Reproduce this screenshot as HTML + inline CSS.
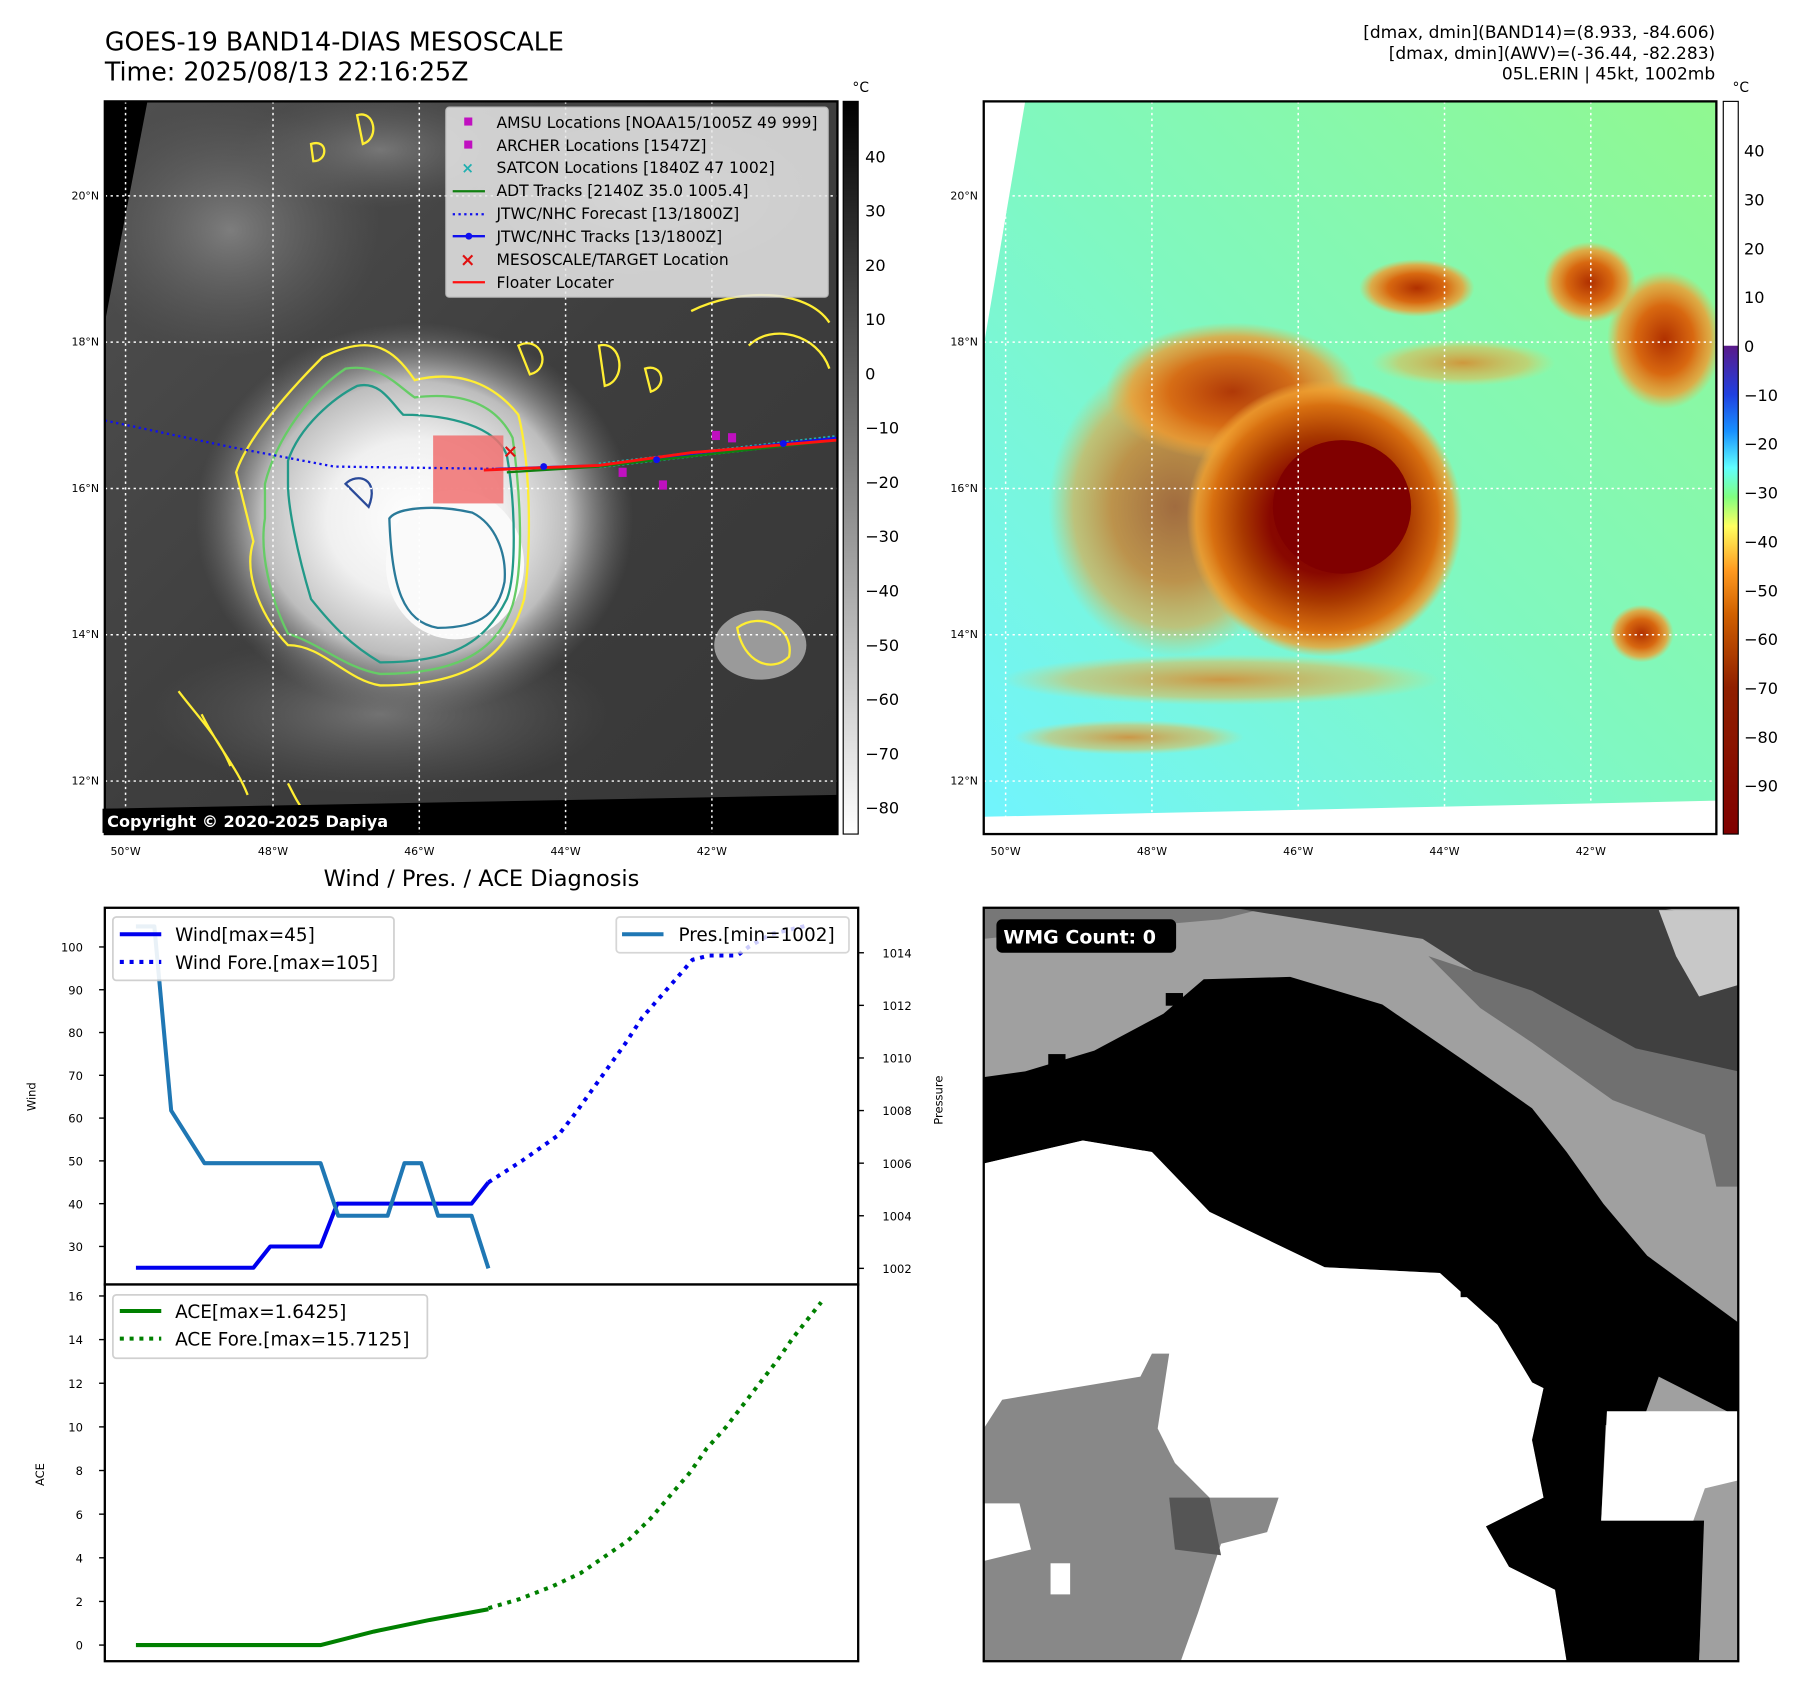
<!DOCTYPE html>
<html><head><meta charset="utf-8"><style>
html,body{margin:0;padding:0;background:#fff;}
svg{display:block;font-family:"DejaVu Sans","Liberation Sans",sans-serif;}
</style></head><body>
<svg id="fig" width="1797" height="1690" viewBox="0 0 1560 1467" preserveAspectRatio="none" xmlns="http://www.w3.org/2000/svg">
<defs>
<linearGradient id="gcb" x1="0" y1="0" x2="0" y2="1"><stop offset="0" stop-color="#000"/><stop offset="1" stop-color="#fff"/></linearGradient>
<linearGradient id="ccb" x1="0" y1="0" x2="0" y2="1">
<stop offset="0" stop-color="#fff"/><stop offset="0.333" stop-color="#fff"/><stop offset="0.334" stop-color="#5a1a8a"/>
<stop offset="0.4" stop-color="#2040e0"/><stop offset="0.45" stop-color="#1890ff"/><stop offset="0.5" stop-color="#60ffff"/>
<stop offset="0.54" stop-color="#80ff80"/><stop offset="0.58" stop-color="#ffff60"/><stop offset="0.64" stop-color="#ff9a20"/>
<stop offset="0.7" stop-color="#d06000"/><stop offset="0.8" stop-color="#902000"/><stop offset="1" stop-color="#800000"/></linearGradient>
<linearGradient id="rbg" x1="0" y1="1" x2="1" y2="0"><stop offset="0" stop-color="#70f4ff"/><stop offset="0.5" stop-color="#80f8c0"/><stop offset="1" stop-color="#90f890"/></linearGradient>
<radialGradient id="storm"><stop offset="0" stop-color="#800000"/><stop offset="0.4" stop-color="#880800"/><stop offset="0.6" stop-color="#a83800"/><stop offset="0.82" stop-color="#d87010"/><stop offset="0.93" stop-color="#f0a030" stop-opacity="0.8"/><stop offset="1" stop-color="#f0b040" stop-opacity="0"/></radialGradient>
<radialGradient id="blob"><stop offset="0" stop-color="#b03000"/><stop offset="0.5" stop-color="#d86810"/><stop offset="0.8" stop-color="#f09a30" stop-opacity="0.8"/><stop offset="1" stop-color="#f0b040" stop-opacity="0"/></radialGradient>
<radialGradient id="band"><stop offset="0" stop-color="#e08020" stop-opacity="0.8"/><stop offset="0.7" stop-color="#f0b040" stop-opacity="0.5"/><stop offset="1" stop-color="#f0d060" stop-opacity="0"/></radialGradient>
<radialGradient id="wstorm"><stop offset="0" stop-color="#fff"/><stop offset="0.4" stop-color="#f0f0f0"/><stop offset="0.7" stop-color="#bdbdbd"/><stop offset="1" stop-color="#777" stop-opacity="0"/></radialGradient>
<radialGradient id="wcloud"><stop offset="0" stop-color="#8a8a8a"/><stop offset="1" stop-color="#666" stop-opacity="0"/></radialGradient>
<linearGradient id="lbg" x1="0" y1="0" x2="1" y2="1"><stop offset="0" stop-color="#505050"/><stop offset="0.5" stop-color="#3e3e3e"/><stop offset="1" stop-color="#363636"/></linearGradient>
<clipPath id="clipL"><rect x="91" y="88" width="636" height="636"/></clipPath>
<clipPath id="clipR"><rect x="854" y="88" width="636" height="636"/></clipPath>
<clipPath id="clipT"><rect x="91" y="788" width="654" height="327"/></clipPath>
</defs>

<text x="91" y="44" font-size="22">GOES-19 BAND14-DIAS MESOSCALE</text>
<text x="91" y="70" font-size="22">Time: 2025/08/13 22:16:25Z</text>
<g font-size="14.8" text-anchor="end">
<text x="1489" y="33">[dmax, dmin](BAND14)=(8.933, -84.606)</text>
<text x="1489" y="51">[dmax, dmin](AWV)=(-36.44, -82.283)</text>
<text x="1489" y="69">05L.ERIN | 45kt, 1002mb</text>
</g>

<!-- LEFT MAP -->
<g clip-path="url(#clipL)">
<rect x="91" y="88" width="636" height="636" fill="url(#lbg)"/>
<ellipse cx="200" cy="200" rx="130" ry="110" fill="url(#wcloud)" opacity="0.8"/>
<ellipse cx="330" cy="130" rx="120" ry="50" fill="url(#wcloud)" opacity="0.7"/>
<ellipse cx="560" cy="170" rx="150" ry="70" fill="url(#wcloud)" opacity="0.6"/>
<ellipse cx="330" cy="620" rx="200" ry="70" fill="url(#wcloud)" opacity="0.7"/>
<ellipse cx="660" cy="560" rx="40" ry="30" fill="#9a9a9a"/>
<ellipse cx="360" cy="450" rx="190" ry="170" fill="url(#wstorm)"/>
<ellipse cx="395" cy="490" rx="60" ry="65" fill="#fafafa"/>
<path d="M205,410 C215,380 250,340 280,310 C320,290 340,300 360,330 C400,320 430,335 450,360 C460,400 462,470 455,520 C440,575 400,595 330,595 C300,590 280,560 250,560 C230,540 210,500 220,470 Z" fill="none" stroke="#ffee33" stroke-width="2"/>
<path d="M230,420 C240,380 270,340 300,320 C330,315 345,335 360,345 C400,340 430,350 445,380 C452,430 455,490 445,525 C430,570 390,585 330,585 C300,580 280,560 250,550 C235,520 225,480 230,450 Z" fill="none" stroke="#66cc66" stroke-width="2"/>
<path d="M250,400 C260,370 290,345 310,335 C330,330 340,350 350,360 C390,360 430,370 440,395 C448,440 448,500 440,520 C420,560 390,575 330,575 C305,560 290,545 270,520 C258,480 250,440 250,420 Z" fill="none" stroke="#229988" stroke-width="2"/>
<path d="M338,450 C345,440 380,438 410,445 C430,455 440,480 438,505 C433,530 420,545 380,545 C350,540 340,510 338,450 Z" fill="none" stroke="#2a7a99" stroke-width="2"/>
<path d="M300,420 C310,410 330,415 320,440 Z" fill="none" stroke="#2a4a99" stroke-width="2"/>
<path d="M155,600 C170,620 190,640 200,665 M175,620 C190,650 205,665 215,690 M250,680 C255,690 260,700 265,705" fill="none" stroke="#ffee33" stroke-width="2"/>
<path d="M640,545 C660,530 690,545 685,570 C670,585 645,575 640,545 Z" fill="none" stroke="#ffee33" stroke-width="2"/>
<path d="M600,270 C640,250 700,250 720,280 M650,300 C670,280 710,290 720,320" fill="none" stroke="#ffee33" stroke-width="2"/>
<path d="M310,100 C325,95 330,120 315,125 Z M270,125 C285,120 285,140 272,140 Z M450,300 C470,290 480,320 460,325 Z M520,300 C540,295 545,330 525,335 Z M560,320 C575,315 580,335 565,340 Z" fill="none" stroke="#ffee33" stroke-width="2"/>
<polygon points="91,88 128,88 91,280" fill="#000"/>
<polygon points="91,702 727,690 727,724 91,724" fill="#000"/>
</g>
<g stroke="#fff" stroke-width="1.3" stroke-dasharray="2,3" clip-path="url(#clipL)">
<line x1="109" y1="88" x2="109" y2="724"/><line x1="237" y1="88" x2="237" y2="724"/><line x1="364" y1="88" x2="364" y2="724"/><line x1="491" y1="88" x2="491" y2="724"/><line x1="618" y1="88" x2="618" y2="724"/>
<line x1="91" y1="170" x2="727" y2="170"/><line x1="91" y1="297" x2="727" y2="297"/><line x1="91" y1="424" x2="727" y2="424"/><line x1="91" y1="551" x2="727" y2="551"/><line x1="91" y1="678" x2="727" y2="678"/>
</g>
<g clip-path="url(#clipL)">
<rect x="376" y="378" width="61" height="59" fill="#f07070" opacity="0.85"/>
<path d="M91,365 L200,388 L290,405 L430,407" fill="none" stroke="#1010ee" stroke-width="2" stroke-dasharray="2,3"/>
<path d="M520,404 L727,380" stroke="#20b0b0" stroke-width="5" stroke-dasharray="2,2" fill="none"/>
<path d="M430,407 L520,404 L600,394 L680,385 L727,380" fill="none" stroke="#1010ee" stroke-width="2"/>
<path d="M440,410 L520,405 L600,396 L727,382" fill="none" stroke="#108010" stroke-width="2"/>
<path d="M420,408 L520,404 L600,393 L727,382" fill="none" stroke="#ff1010" stroke-width="2.5"/>
<circle cx="472" cy="405" r="3" fill="#1010ee"/><circle cx="570" cy="399" r="3" fill="#1010ee"/><circle cx="680" cy="385" r="3" fill="#1010ee"/>
<text x="443" y="397" fill="#e01010" font-size="16" font-weight="bold" text-anchor="middle">×</text>
<g fill="#c010c0"><rect x="537" y="406" width="7" height="8"/><rect x="572" y="417" width="7" height="8"/><rect x="618" y="374" width="7" height="8"/><rect x="632" y="376" width="7" height="8"/></g>
</g>
<rect x="91" y="88" width="636" height="636" fill="none" stroke="#000" stroke-width="2"/>
<g font-size="13.5">
<rect x="387" y="93" width="332" height="165" rx="3" fill="#e8e8e8" opacity="0.85" stroke="#ccc"/>
<rect x="403" y="102" width="7" height="7" fill="#c010c0"/><text x="431" y="111">AMSU Locations [NOAA15/1005Z 49 999]</text>
<rect x="403" y="122" width="7" height="7" fill="#c010c0"/><text x="431" y="131">ARCHER Locations [1547Z]</text>
<text x="406" y="150" fill="#20b0b0" font-size="13" font-weight="bold" text-anchor="middle">×</text><text x="431" y="150">SATCON Locations [1840Z 47 1002]</text>
<line x1="393" y1="166" x2="421" y2="166" stroke="#108010" stroke-width="2"/><text x="431" y="170">ADT Tracks [2140Z 35.0 1005.4]</text>
<line x1="393" y1="186" x2="421" y2="186" stroke="#1010ee" stroke-width="2" stroke-dasharray="2,3"/><text x="431" y="190">JTWC/NHC Forecast [13/1800Z]</text>
<line x1="393" y1="205" x2="421" y2="205" stroke="#1010ee" stroke-width="2"/><circle cx="407" cy="205" r="3" fill="#1010ee"/><text x="431" y="210">JTWC/NHC Tracks [13/1800Z]</text>
<text x="406" y="231" fill="#e01010" font-size="16" font-weight="bold" text-anchor="middle">×</text><text x="431" y="230">MESOSCALE/TARGET Location</text>
<line x1="393" y1="245" x2="421" y2="245" stroke="#ff1010" stroke-width="2"/><text x="431" y="250">Floater Locater</text>
</g>
<g><rect x="89" y="702" width="272" height="21" fill="#000"/><text x="93" y="718" fill="#fff" font-size="14" font-weight="bold">Copyright © 2020-2025 Dapiya</text></g>

<g>
<rect x="732" y="88" width="13" height="636" fill="url(#gcb)" stroke="#000" stroke-width="1"/>
<text x="740" y="80" font-size="12">°C</text>
<g id="gticks" font-size="14"></g>
</g>

<!-- RIGHT MAP -->
<g clip-path="url(#clipR)">
<rect x="854" y="88" width="636" height="636" fill="url(#rbg)"/>
<ellipse cx="1060" cy="590" rx="190" ry="22" fill="url(#band)"/>
<ellipse cx="980" cy="640" rx="100" ry="15" fill="url(#band)"/>
<ellipse cx="1020" cy="440" rx="110" ry="130" fill="url(#blob)" opacity="0.7"/>
<ellipse cx="1070" cy="340" rx="110" ry="60" fill="url(#blob)" opacity="0.95"/>
<ellipse cx="1150" cy="450" rx="120" ry="120" fill="url(#storm)"/>
<ellipse cx="1165" cy="440" rx="60" ry="58" fill="#800000"/>
<ellipse cx="1230" cy="250" rx="50" ry="25" fill="url(#blob)"/>
<ellipse cx="1380" cy="245" rx="40" ry="35" fill="url(#blob)"/>
<ellipse cx="1445" cy="295" rx="50" ry="60" fill="url(#blob)"/>
<ellipse cx="1425" cy="550" rx="28" ry="25" fill="url(#blob)"/>
<ellipse cx="1270" cy="315" rx="80" ry="20" fill="url(#band)"/>
<polygon points="854,88 890,88 854,300" fill="#fff"/>
<polygon points="854,709 1490,695 1490,724 854,724" fill="#fff"/>
</g>
<g stroke="#fff" stroke-width="1.3" stroke-dasharray="2,3" clip-path="url(#clipR)">
<line x1="873" y1="88" x2="873" y2="724"/><line x1="1000" y1="88" x2="1000" y2="724"/><line x1="1127" y1="88" x2="1127" y2="724"/><line x1="1254" y1="88" x2="1254" y2="724"/><line x1="1381" y1="88" x2="1381" y2="724"/>
<line x1="854" y1="170" x2="1490" y2="170"/><line x1="854" y1="297" x2="1490" y2="297"/><line x1="854" y1="424" x2="1490" y2="424"/><line x1="854" y1="551" x2="1490" y2="551"/><line x1="854" y1="678" x2="1490" y2="678"/>
</g>
<rect x="854" y="88" width="636" height="636" fill="none" stroke="#000" stroke-width="2"/>
<g>
<rect x="1496" y="88" width="13" height="636" fill="url(#ccb)" stroke="#000" stroke-width="1"/>
<text x="1504" y="80" font-size="12">°C</text>
<g id="cticks" font-size="14"></g>
</g>

<g font-size="9.5">
<g text-anchor="end"><text x="86" y="173">20°N</text><text x="86" y="300">18°N</text><text x="86" y="427">16°N</text><text x="86" y="554">14°N</text><text x="86" y="681">12°N</text>
<text x="849" y="173">20°N</text><text x="849" y="300">18°N</text><text x="849" y="427">16°N</text><text x="849" y="554">14°N</text><text x="849" y="681">12°N</text></g>
<g text-anchor="middle"><text x="109" y="742">50°W</text><text x="237" y="742">48°W</text><text x="364" y="742">46°W</text><text x="491" y="742">44°W</text><text x="618" y="742">42°W</text>
<text x="873" y="742">50°W</text><text x="1000" y="742">48°W</text><text x="1127" y="742">46°W</text><text x="1254" y="742">44°W</text><text x="1381" y="742">42°W</text></g>
</g>

<!-- DIAGNOSIS CHART -->
<text x="418" y="769" font-size="19.5" text-anchor="middle">Wind / Pres. / ACE Diagnosis</text>
<rect x="91" y="788" width="654" height="327" fill="#fff" stroke="#000" stroke-width="2"/>
<rect x="91" y="1115" width="654" height="327" fill="#fff" stroke="#000" stroke-width="2"/>
<g id="plotT" clip-path="url(#clipT)"></g>
<g id="plotB"></g>
<g id="axes" font-size="10"></g>
<text x="0" y="0" font-size="10" text-anchor="middle" transform="translate(31,952) rotate(-90)">Wind</text>
<text x="0" y="0" font-size="10" text-anchor="middle" transform="translate(818,955) rotate(-90)">Pressure</text>
<text x="0" y="0" font-size="10" text-anchor="middle" transform="translate(38,1280) rotate(-90)">ACE</text>

<g font-size="16">
<rect x="98" y="796" width="244" height="55" rx="3" fill="#fff" opacity="0.9" stroke="#ccc" stroke-width="1.5"/>
<line x1="104" y1="811" x2="140" y2="811" stroke="#0000ee" stroke-width="3.5"/><text x="152" y="817">Wind[max=45]</text>
<line x1="104" y1="835" x2="140" y2="835" stroke="#0000ee" stroke-width="3.5" stroke-dasharray="3.5,5"/><text x="152" y="841">Wind Fore.[max=105]</text>
</g>
<g font-size="16">
<rect x="535" y="796" width="202" height="31" rx="3" fill="#fff" opacity="0.8" stroke="#ccc" stroke-width="1.5"/>
<line x1="540" y1="811" x2="576" y2="811" stroke="#1f77b4" stroke-width="3.5"/><text x="589" y="817">Pres.[min=1002]</text>
</g>
<g font-size="16">
<rect x="98" y="1124" width="273" height="55" rx="3" fill="#fff" opacity="0.9" stroke="#ccc" stroke-width="1.5"/>
<line x1="104" y1="1138" x2="140" y2="1138" stroke="#008000" stroke-width="3.5"/><text x="152" y="1144">ACE[max=1.6425]</text>
<line x1="104" y1="1162" x2="140" y2="1162" stroke="#008000" stroke-width="3.5" stroke-dasharray="3.5,5"/><text x="152" y="1168">ACE Fore.[max=15.7125]</text>
</g>

<!-- WMG PANEL -->
<g>
<rect x="854" y="788" width="655" height="654" fill="#a0a0a0"/>
<polygon points="854,788 1100,788 1060,798 980,805 920,808 854,815" fill="#777"/>
<polygon points="1070,788 1440,788 1509,800 1509,930 1480,945 1420,925 1360,885 1290,850 1235,815" fill="#404040"/>
<polygon points="1240,830 1330,860 1420,910 1509,930 1509,1030 1490,1030 1480,985 1400,955 1330,905 1285,875" fill="#707070"/>
<polygon points="1440,790 1509,790 1509,855 1475,865 1455,830" fill="#c8c8c8"/>
<polygon points="854,935 890,930 950,912 1010,880 1045,850 1120,848 1200,872 1270,920 1330,962 1360,1000 1392,1045 1430,1090 1509,1148 1509,1230 1440,1195 1420,1250 1380,1230 1330,1200 1300,1150 1250,1105 1150,1100 1050,1052 1000,1000 940,990 854,1010" fill="#000"/>
<polygon points="854,1010 940,990 1000,1000 1050,1052 1150,1100 1250,1105 1300,1150 1330,1200 1340,1205 1330,1250 1340,1300 1290,1325 1310,1360 1350,1380 1360,1442 854,1442" fill="#fff"/>
<polygon points="1340,1205 1395,1212 1390,1320 1480,1320 1475,1442 1360,1442 1350,1380 1310,1360 1290,1325 1340,1300 1330,1250" fill="#000"/>
<polygon points="1395,1225 1509,1225 1509,1285 1480,1292 1470,1320 1390,1320" fill="#fff"/>
<polygon points="1480,1300 1509,1290 1509,1442 1475,1442" fill="#a0a0a0"/>
<polygon points="854,1240 870,1215 990,1195 1000,1175 1015,1175 1005,1240 1020,1270 1050,1300 1110,1300 1100,1330 1060,1340 1040,1400 1025,1442 854,1442" fill="#888"/>
<polygon points="854,1305 885,1305 895,1345 854,1355" fill="#fff"/>
<rect x="912" y="1357" width="17" height="27" fill="#fff"/>
<polygon points="1015,1300 1050,1300 1060,1350 1020,1345" fill="#555"/>
<rect x="1268" y="1115" width="16" height="11" fill="#000"/><rect x="1297" y="1127" width="16" height="11" fill="#000"/>
<rect x="1012" y="862" width="15" height="11" fill="#000"/><rect x="910" y="915" width="15" height="11" fill="#000"/>
</g>
<rect x="854" y="788" width="655" height="654" fill="none" stroke="#000" stroke-width="2"/>
<g><rect x="865" y="798" width="156" height="29" rx="5" fill="#000"/><text x="871" y="819" fill="#fff" font-size="16.5" font-weight="bold">WMG Count: 0</text></g>

<script>
// ---- chart data ----
const windObsHours = [0, 42, 48, 66, 72, 120, 126];
const windObsVals  = [25, 25, 30, 30, 40, 40, 45];
const windForeHours = [126, 138, 151, 157, 163, 169, 175, 181, 187, 193, 199, 205, 215, 219, 227, 240];
const windForeVals  = [45, 50, 56, 61, 66.5, 72, 77.5, 83.5, 88, 92.5, 97, 98, 98, 100, 103, 105];
const presHours = [0, 6.6, 12.6, 24.5, 66, 72.3, 90, 96, 102, 108, 120, 126];
const presVals  = [1015, 1015, 1008, 1006, 1006, 1004, 1004, 1006, 1006, 1004, 1004, 1002];
const aceObsHours = [0, 66, 85, 105, 126];
const aceObsVals  = [0, 0, 0.62, 1.15, 1.6425];
const aceForeHours = [126, 137, 149, 159, 167, 176, 184, 192, 198, 204, 211, 217, 223, 229, 235, 245];
const aceForeVals  = [1.69, 2.1, 2.7, 3.3, 4.0, 4.8, 5.8, 7.0, 7.9, 9.0, 10.0, 11.0, 12.0, 13.0, 14.1, 15.7125];
const windTicks = [30, 40, 50, 60, 70, 80, 90, 100];
const presTicks = [1002, 1004, 1006, 1008, 1010, 1012, 1014];
const aceTicks = [0, 2, 4, 6, 8, 10, 12, 14, 16];
const bandTicks = [40, 30, 20, 10, 0, -10, -20, -30, -40, -50, -60, -70, -80];
const awvTicks = [40, 30, 20, 10, 0, -10, -20, -30, -40, -50, -60, -70, -80, -90];

const X = h => 118 + h * 2.4283;
const YW = v => 822 - (v - 100) * 3.714;
const YP = p => 1101 - (p - 1002) * 22.83;
const YA = a => 1428 - a * 18.94;
const YG = t => 136 + (40 - t) * 4.71;
const YC = t => 131 + (40 - t) * 4.24;
const NS = 'http://www.w3.org/2000/svg';
function mk(tag, attrs, parent){const e=document.createElementNS(NS,tag);for(const k in attrs)e.setAttribute(k,attrs[k]);parent.appendChild(e);return e;}
function pts(hs, vs, fy){return hs.map((h,i)=>X(h).toFixed(1)+','+fy(vs[i]).toFixed(1)).join(' ');}
const T=document.getElementById('plotT'), B=document.getElementById('plotB'), A=document.getElementById('axes');

let l;
l=mk('polyline',{points:pts(windObsHours,windObsVals,YW),fill:'none',stroke:'#0000ee','stroke-width':3.5,'stroke-linejoin':'round'},T);


l=mk('polyline',{points:pts(windForeHours,windForeVals,YW),fill:'none',stroke:'#0000ee','stroke-width':3.5,'stroke-dasharray':'3.5,5'},T);


l=mk('polyline',{points:pts(presHours,presVals,YP),fill:'none',stroke:'#1f77b4','stroke-width':3.5,'stroke-linejoin':'round'},T);


l=mk('polyline',{points:pts(aceObsHours,aceObsVals,YA),fill:'none',stroke:'#008000','stroke-width':3.5},B);


l=mk('polyline',{points:pts(aceForeHours,aceForeVals,YA),fill:'none',stroke:'#008000','stroke-width':3.5,'stroke-dasharray':'3.5,5'},B);



function tick(x1,y,x2,lx,anchor,label,name,parent){
  const g=mk('g',{},parent);
  
  
  mk('line',{x1:x1,y1:y,x2:x2,y2:y,stroke:'#000','stroke-width':1.2},g);
  const t=mk('text',{x:lx,y:y+4,'text-anchor':anchor},g);t.textContent=label;
}
windTicks.forEach(v=>tick(86,YW(v),91,72,'end',v,'wind-tick',A));
presTicks.forEach(v=>tick(745,YP(v),750,766,'start',v,'pressure-tick',A));
aceTicks.forEach(v=>tick(86,YA(v),91,72,'end',v,'ace-tick',A));
const G=document.getElementById('gticks'), C=document.getElementById('cticks');
bandTicks.forEach(v=>{const t=mk('text',{x:751,y:YG(v)+5},G);t.textContent=(v<0?'\u2212'+(-v):v);

});
awvTicks.forEach(v=>{const t=mk('text',{x:1514,y:YC(v)+5},C);t.textContent=(v<0?'\u2212'+(-v):v);

});
</script>
</svg>
</body></html>
